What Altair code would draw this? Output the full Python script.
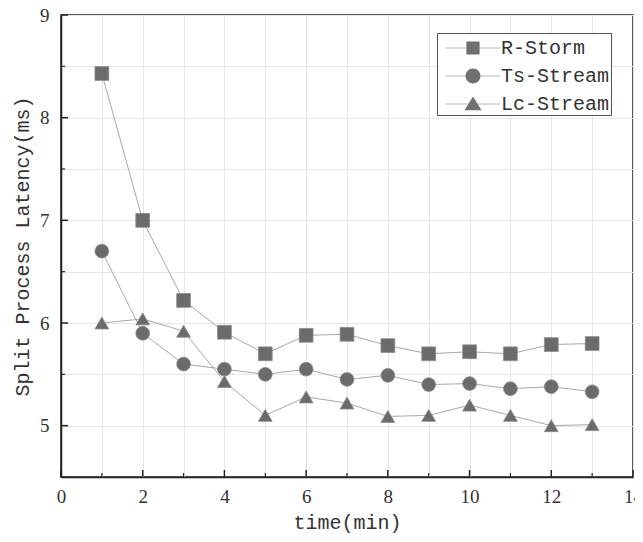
import altair as alt
import pandas as pd

time_min = list(range(1, 14))
r_storm = [8.43, 7.00, 6.22, 5.91, 5.70, 5.88, 5.89, 5.78, 5.70, 5.72, 5.70, 5.79, 5.80]
ts_stream = [6.70, 5.90, 5.60, 5.55, 5.50, 5.55, 5.45, 5.49, 5.40, 5.41, 5.36, 5.38, 5.33]
lc_stream = [6.00, 6.04, 5.92, 5.43, 5.10, 5.28, 5.22, 5.09, 5.10, 5.20, 5.10, 5.00, 5.01]
series_names = ["R-Storm", "Ts-Stream", "Lc-Stream"]

x_grid_values = list(range(0, 15))
x_major_ticks = list(range(0, 15, 2))
x_minor_ticks = list(range(1, 15, 2))
y_grid_values = [4.5, 5, 5.5, 6, 6.5, 7, 7.5, 8, 8.5, 9]
y_major_ticks = [5, 6, 7, 8, 9]
y_minor_ticks = [4.5, 5.5, 6.5, 7.5, 8.5]

rows = []
for name, vals in zip(series_names, [r_storm, ts_stream, lc_stream]):
    for t, v in zip(time_min, vals):
        rows.append({"time": t, "latency": v, "series": name})
df = pd.DataFrame(rows)

W, H = 572, 462
MONO = "Liberation Mono"
SERIF = "Liberation Serif"
MARK_FILL = "#6b6b6b"
LINE_COL = "#a8a8a8"

xscale = alt.Scale(domain=[0, 14], nice=False, zero=False)
yscale = alt.Scale(domain=[4.5, 9], nice=False, zero=False)

xaxis = alt.Axis(values=x_grid_values, title="time(min)", titleFont=MONO, titleFontSize=20,
                 titleFontWeight="normal", titleColor="#333", titlePadding=6,
                 labelFont=SERIF, labelFontSize=19, labelColor="#333", labelPadding=10,
                 labelFlush=False, labelOverlap=False,
                 labelExpr="datum.value % 2 == 0 ? format(datum.value, 'd') : ''",
                 ticks=False, domainColor="#222", domainWidth=1.5,
                 grid=True, gridColor="#e6e6e6", gridWidth=1)
yaxis = alt.Axis(values=y_grid_values, title="Split Process Latency(ms)", titleFont=MONO,
                 titleFontSize=20, titleFontWeight="normal", titleColor="#333",
                 titleX=-39, titleY=H / 2, titleAngle=270, titleAlign="center",
                 titleBaseline="middle",
                 labelFont=SERIF, labelFontSize=19, labelColor="#333", labelPadding=12,
                 labelFlush=False, labelOverlap=False,
                 labelExpr="datum.value % 1 == 0 ? format(datum.value, 'd') : ''",
                 ticks=False, domainColor="#222", domainWidth=1.5,
                 grid=True, gridColor="#e6e6e6", gridWidth=1)

base = alt.Chart(df)

lines = base.mark_line(color=LINE_COL, strokeWidth=1).encode(
    x=alt.X("time:Q", scale=xscale, axis=xaxis),
    y=alt.Y("latency:Q", scale=yscale, axis=yaxis),
    detail="series:N",
)

points = base.mark_point(filled=True, color=MARK_FILL, stroke="#8a8a8a", strokeWidth=0.8,
                         opacity=1, size=190).encode(
    x=alt.X("time:Q", scale=xscale),
    y=alt.Y("latency:Q", scale=yscale),
    shape=alt.Shape("series:N", scale=alt.Scale(domain=series_names,
                                                range=["square", "circle", "triangle-up"]),
                    legend=None),
)

LINE_PART = "M-2.58,0M-2,-0.022L2,-0.022L2,0.022L-2,0.022Z"
legend_paths = [
    LINE_PART + "M-0.48,-0.48L0.48,-0.48L0.48,0.48L-0.48,0.48Z",
    LINE_PART + "M0.54,0A0.54,0.54,0,1,1,-0.54,0A0.54,0.54,0,1,1,0.54,0Z",
    LINE_PART + "M0,-0.55L0.62,0.45L-0.62,0.45Z",
]
legend_layer = base.transform_filter("datum.time < 0").mark_point(
    filled=True, color="#707070", opacity=1).encode(
    x=alt.X("time:Q", scale=xscale),
    y=alt.Y("latency:Q", scale=yscale),
    shape=alt.Shape("series:N", scale=alt.Scale(domain=series_names, range=legend_paths),
                    legend=alt.Legend(title=None, orient="none", legendX=376, legendY=18,
                                      symbolSize=756, symbolOffset=21, labelOffset=14,
                                      symbolFillColor="#707070", symbolStrokeWidth=0,
                                      symbolOpacity=1,
                                      labelFont=MONO, labelFontSize=20, labelColor="#333",
                                      strokeColor="#555", fillColor="white", padding=1,
                                      rowPadding=4, labelLimit=300)),
)

x_major = alt.Chart(pd.DataFrame({"t": x_major_ticks})).mark_rule(color="#222", strokeWidth=1.5).encode(
    x=alt.X("t:Q", scale=xscale), y=alt.value(H), y2=alt.value(H - 7))
x_minor = alt.Chart(pd.DataFrame({"t": x_minor_ticks})).mark_rule(color="#222", strokeWidth=1.2).encode(
    x=alt.X("t:Q", scale=xscale), y=alt.value(H), y2=alt.value(H - 4))
y_major = alt.Chart(pd.DataFrame({"v": y_major_ticks})).mark_rule(color="#222", strokeWidth=1.5).encode(
    y=alt.Y("v:Q", scale=yscale), x=alt.value(0), x2=alt.value(7))
y_minor = alt.Chart(pd.DataFrame({"v": y_minor_ticks})).mark_rule(color="#222", strokeWidth=1.2).encode(
    y=alt.Y("v:Q", scale=yscale), x=alt.value(0), x2=alt.value(4))

chart = alt.layer(lines, points, legend_layer, x_major, x_minor, y_major, y_minor).resolve_scale(
    shape="independent"
).properties(
    width=W, height=H,
    autosize=alt.AutoSizeParams(type="none"),
    padding={"left": 53, "top": 7, "right": 2, "bottom": 60},
    background="white",
).configure_view(stroke="#222", strokeWidth=1.5)

chart.save("out.html", embed_options={"renderer": "svg", "actions": False})
